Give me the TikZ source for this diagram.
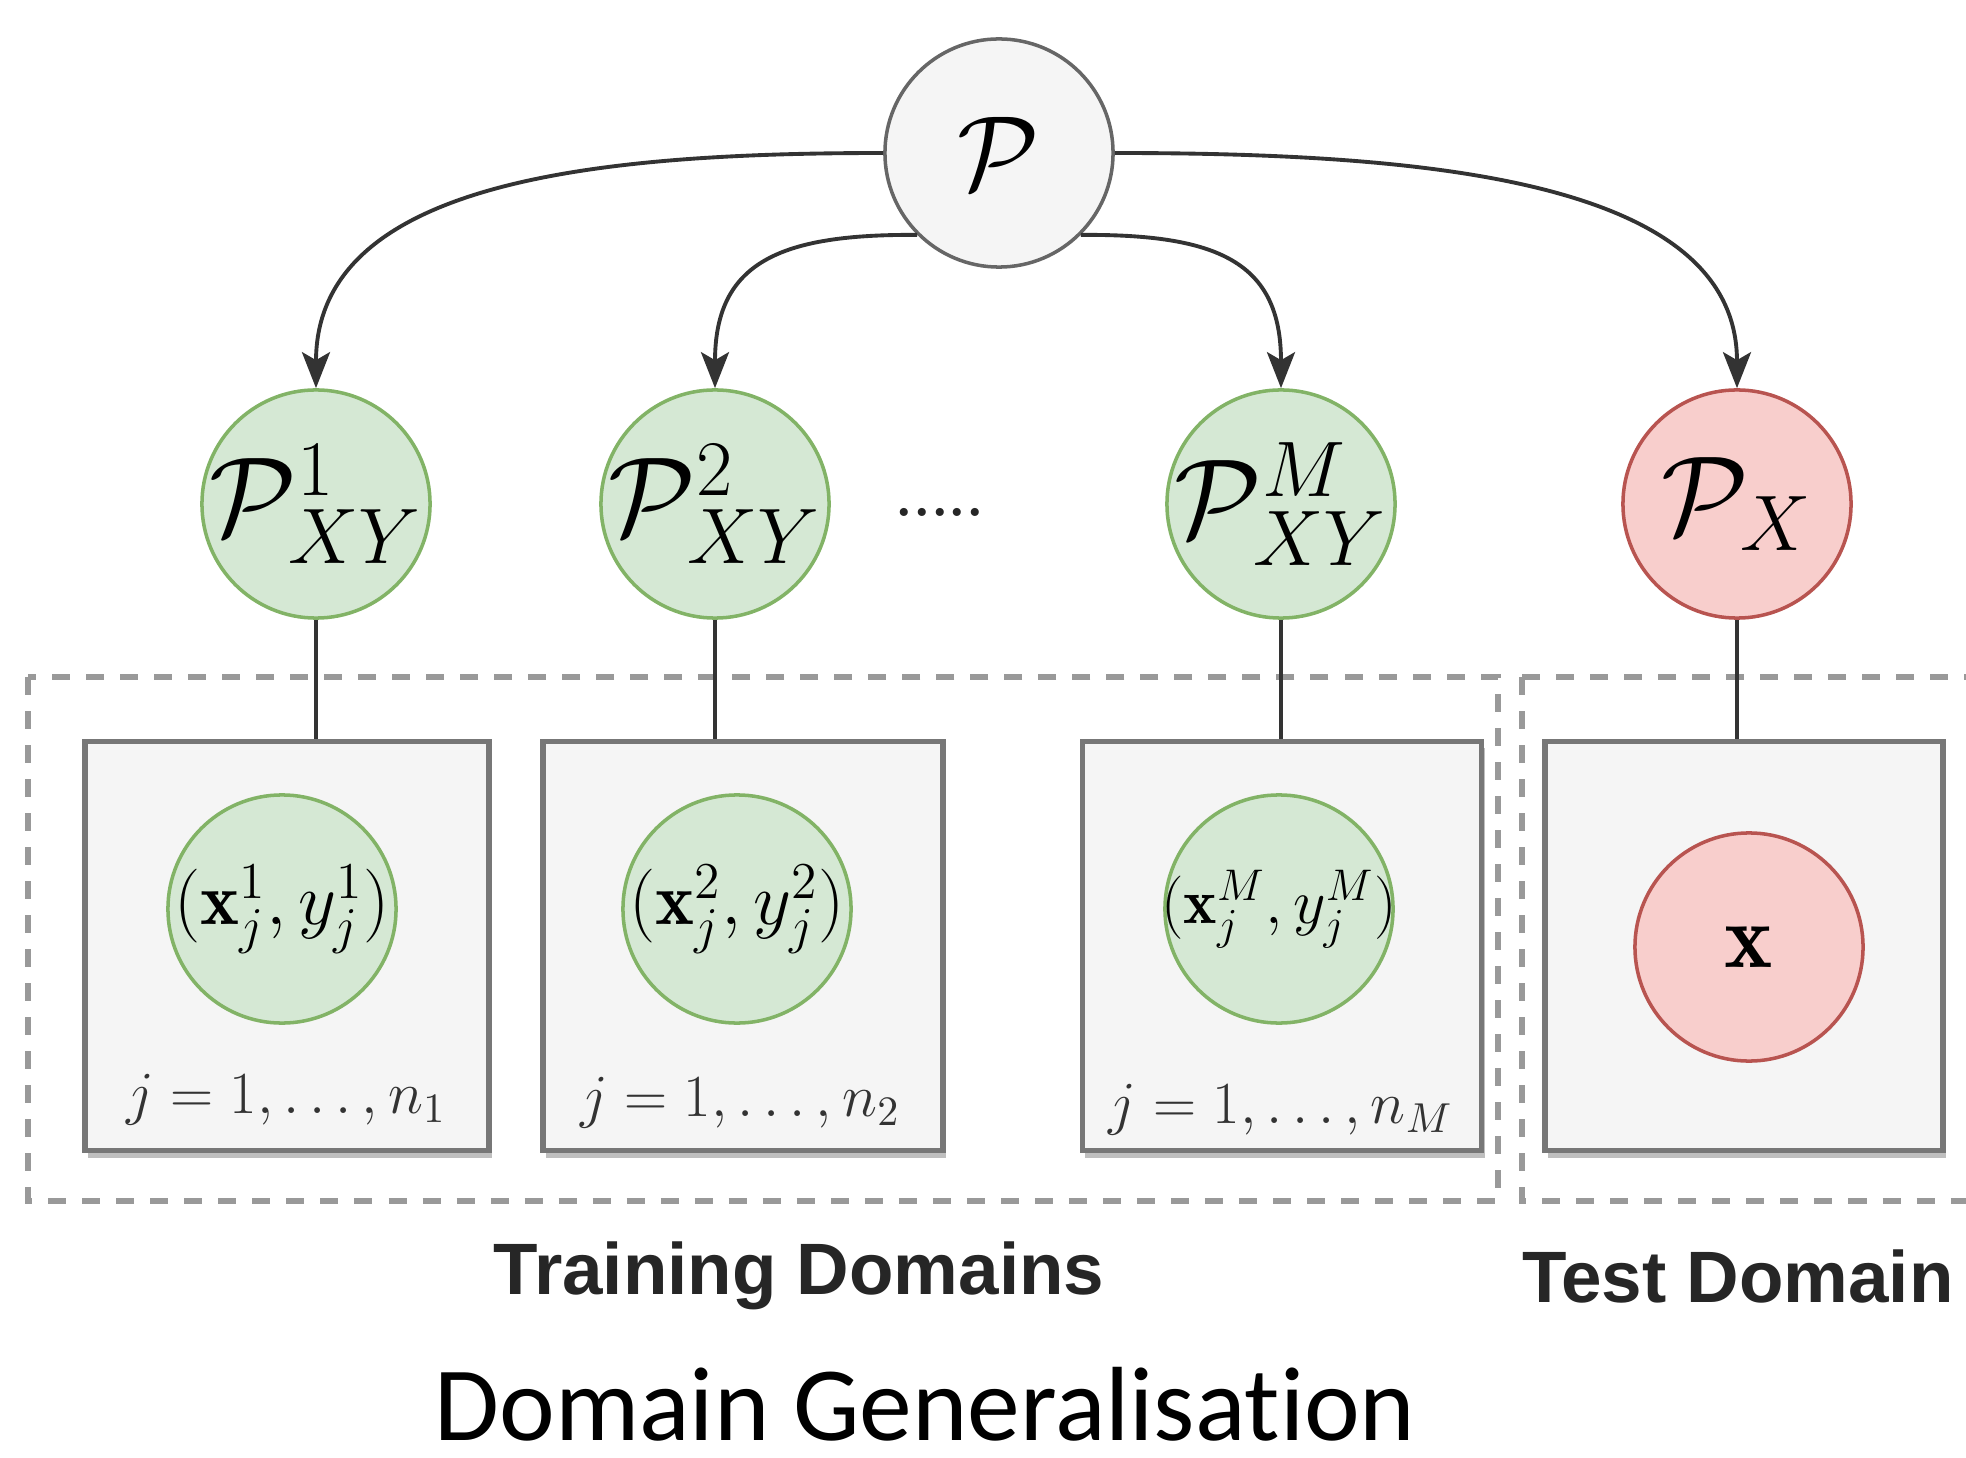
\RequirePackage{fix-cm}
\documentclass[tikz,border=0pt]{standalone}
\usepackage{fontspec}
\newfontfamily\helv{Liberation Sans}
\newfontfamily\carl[Ligatures={NoCommon}]{Carlito}
\usetikzlibrary{arrows.meta,shadows}
\definecolor{grnfill}{HTML}{D5E8D4}
\definecolor{grnline}{HTML}{82B366}
\definecolor{redfill}{HTML}{F8CECC}
\definecolor{redline}{HTML}{B85450}
\definecolor{boxfill}{HTML}{F5F5F5}
\definecolor{boxline}{HTML}{777777}
\tikzset{
  gcirc/.style={circle, draw=grnline, fill=grnfill, line width=1pt, minimum size=2.28cm, inner sep=0pt},
  rcirc/.style={circle, draw=redline, fill=redfill, line width=1pt, minimum size=2.28cm, inner sep=0pt},
  pcirc/.style={circle, draw=black!60, fill=boxfill, line width=1pt, minimum size=2.28cm, inner sep=0pt},
  sbox/.style={rectangle, draw=boxline, fill=boxfill, line width=1.6pt, inner sep=0pt,
     drop shadow={shadow xshift=0.03cm, shadow yshift=-0.07cm, fill=black!25, opacity=1}},
  dbox/.style={draw=black!40, line width=1.8pt, dash pattern=on 0.18cm off 0.16cm},
  conn/.style={draw=black!80, line width=1.1pt},
  arr/.style={conn, -{Stealth[length=0.36cm,width=0.28cm,inset=0.08cm]}},
  bigmath/.style={font=\fontsize{32}{38}\selectfont, inner sep=-5pt},
  inmath/.style={font=\fontsize{21}{25}\selectfont, inner sep=-2pt},
  jlab/.style={font=\fontsize{17}{20}\selectfont, text=black!80, inner sep=0pt},
  captxt/.style={font=\helv\bfseries\fontsize{20.7}{24}\selectfont, text=black!85, inner sep=0pt},
}
\begin{document}
\begin{tikzpicture}[x=0.01cm,y=-0.01cm]
\useasboundingbox (0,0) rectangle (1966,1458);
% dashed domain boxes
\draw[dbox] (28,677) rectangle (1498,1201);
\draw[dbox] (1522,677) -- (1990,677);
\draw[dbox] (1522,677) -- (1522,1201) -- (1990,1201);
% inner boxes
\node[sbox, minimum width=4.04cm, minimum height=4.09cm] (B1) at (287,946) {};
\node[sbox, minimum width=4.00cm, minimum height=4.09cm] (B2) at (743,946) {};
\node[sbox, minimum width=3.99cm, minimum height=4.09cm] (B3) at (1282,946) {};
\node[sbox, minimum width=3.98cm, minimum height=4.09cm] (B4) at (1744,946) {};
% top node
\node[pcirc, font=\fontsize{30}{36}\selectfont] (P) at (999,153) {$\mathcal{P}$};
% distribution nodes
\node[gcirc, bigmath] (P1) at (316,504) {$\mathcal{P}^1_{XY}$};
\node[gcirc, bigmath] (P2) at (715,504) {$\mathcal{P}^2_{XY}$};
\node[gcirc, bigmath] (PM) at (1281,504) {$\mathcal{P}^M_{XY}$};
\node[rcirc, bigmath] (PX) at (1737,504) {$\mathcal{P}_X$};
\node[font=\bfseries\fontsize{16}{18}\selectfont, inner sep=0pt, text=black!85] (dots) at (940,512) {.....};
% sample nodes
\node[gcirc, inmath] (C1) at (282,909) {$(\mathbf{x}_j^1, y_j^1)$};
\node[gcirc, inmath] (C2) at (737,909) {$(\mathbf{x}_j^2, y_j^2)$};
\node[gcirc, font=\fontsize{18}{22}\selectfont, inner sep=-4pt] (C3) at (1279,909) {$(\mathbf{x}_j^M, y_j^M)$};
\node[rcirc, font=\fontsize{26}{30}\selectfont] (CX) at (1749,947) {$\mathbf{x}$};
% index labels
\node[jlab] (L1) at (286,1100) {$j = 1, \ldots, n_1$};
\node[jlab] (L2) at (740,1103) {$j = 1, \ldots, n_2$};
\node[jlab] (L3) at (1281,1110) {$j = 1, \ldots, n_M$};
% captions
\node[captxt] (trn) at (799,1276) {Training Domains};
\node[captxt] (tst) at (1738,1276) {Test Domain};
\node[font=\carl\fontsize{30}{36}\selectfont, inner sep=0pt] (title) at (925,1404) {Domain Generalisat\kern0pt ion};
% arrows
\draw[arr] (P.west) .. controls (600,153) and (316,180) .. (P1.north);
\draw[arr] (P.225) .. controls (780,234) and (715,262) .. (P2.north);
\draw[arr] (P.-45) .. controls (1218,234) and (1281,262) .. (PM.north);
\draw[arr] (P.east) .. controls (1426,153) and (1737,180) .. (PX.north);
% vertical links
\draw[conn] (P1.south) -- (P1.south |- B1.north);
\draw[conn] (P2.south) -- (P2.south |- B2.north);
\draw[conn] (PM.south) -- (PM.south |- B3.north);
\draw[conn] (PX.south) -- (PX.south |- B4.north);
\end{tikzpicture}
\end{document}
